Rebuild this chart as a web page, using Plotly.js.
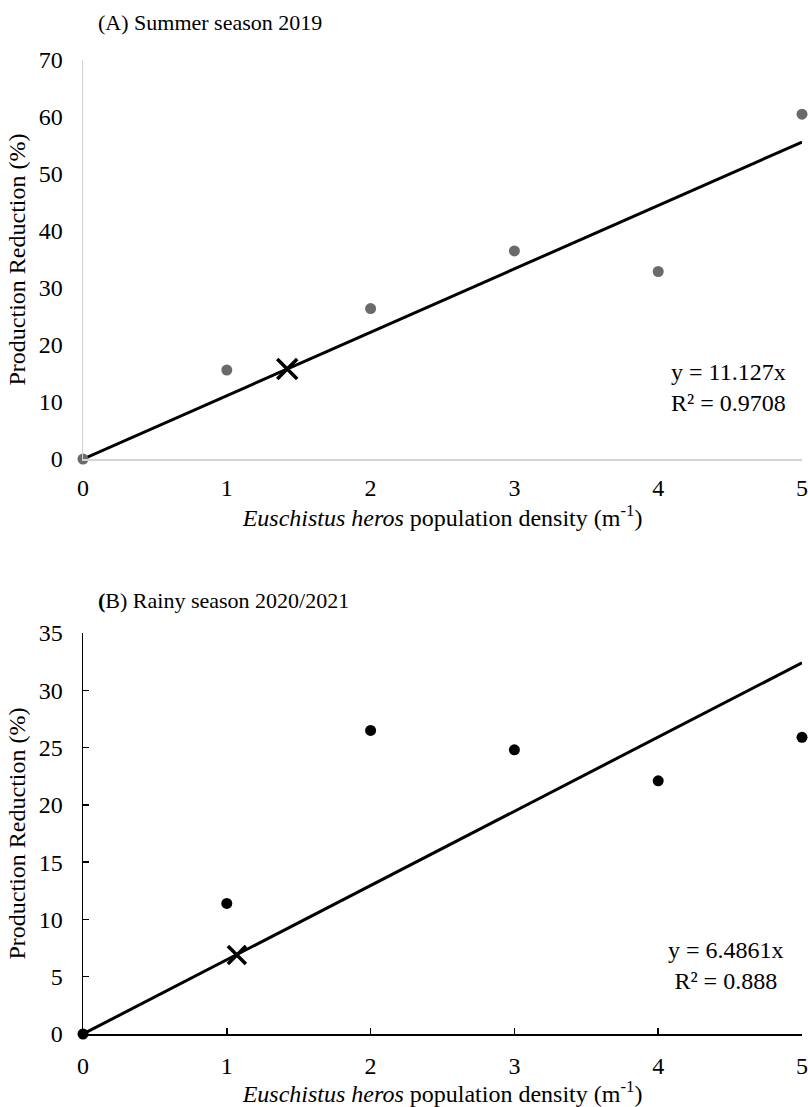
<!DOCTYPE html>
<html>
<head>
<meta charset="utf-8">
<script src="https://cdn.plot.ly/plotly-3.0.1.min.js"></script>
<style>html,body{margin:0;padding:0;background:#fff;}</style>
</head>
<body>
<div id="chart" style="width:808px;height:1107px;"></div>
<script>
// Data
const density = [0, 1, 2, 3, 4, 5];
const summerReduction = [0, 15.6, 26.4, 36.5, 32.9, 60.5];
const rainyReduction = [0, 11.4, 26.5, 24.8, 22.1, 25.9];
const trendX = [0, 5];
const summerTrendY = [0, 55.6];
const rainyTrendY = [0, 32.4];
const summerThresholdX = [1.42];
const summerThresholdY = [15.8];
const rainyThresholdX = [1.07];
const rainyThresholdY = [6.9];
const summerTicks = [0, 10, 20, 30, 40, 50, 60, 70];
const rainyTicks = [0, 5, 10, 15, 20, 25, 30, 35];
const xTicks = [0, 1, 2, 3, 4, 5];

const FONT = 'Liberation Serif, Times New Roman, serif';

const traces = [
  {x: trendX, y: summerTrendY, xaxis: 'x', yaxis: 'y', mode: 'lines',
   line: {color: '#000', width: 3}, hoverinfo: 'skip', cliponaxis: false},
  {x: density, y: summerReduction, xaxis: 'x', yaxis: 'y', mode: 'markers',
   marker: {color: '#6a6a6a', size: 11}, cliponaxis: false},
  {x: summerThresholdX, y: summerThresholdY, xaxis: 'x', yaxis: 'y', mode: 'markers',
   marker: {symbol: 'x-thin-open', size: 20, color: '#000', line: {color: '#000', width: 3.5}}, cliponaxis: false},
  {x: trendX, y: rainyTrendY, xaxis: 'x2', yaxis: 'y2', mode: 'lines',
   line: {color: '#000', width: 3}, hoverinfo: 'skip', cliponaxis: false},
  {x: density, y: rainyReduction, xaxis: 'x2', yaxis: 'y2', mode: 'markers',
   marker: {color: '#000', size: 11}, cliponaxis: false},
  {x: rainyThresholdX, y: rainyThresholdY, xaxis: 'x2', yaxis: 'y2', mode: 'markers',
   marker: {symbol: 'x-thin-open', size: 18, color: '#000', line: {color: '#000', width: 3.5}}, cliponaxis: false}
];

const xTitle = '<i>Euschistus heros</i> population density (m<sup>-1</sup>)';
const yTitle = 'Production Reduction (%)';
const tickFont = {family: FONT, size: 24, color: '#000'};
const titleFont = {family: FONT, size: 24, color: '#000'};

const layout = {
  width: 808, height: 1107,
  margin: {l: 83, r: 6, t: 60, b: 73},
  paper_bgcolor: '#fff', plot_bgcolor: '#fff',
  showlegend: false,
  font: {family: FONT, size: 24, color: '#000'},
  xaxis: {
    domain: [0, 1], range: [0, 5], anchor: 'y',
    tickvals: xTicks, ticks: '', showgrid: false, zeroline: false,
    showline: true, linecolor: '#d4d4d4', linewidth: 1.5,
    tickfont: tickFont, ticklabelstandoff: 7,
    title: {text: xTitle, font: titleFont, standoff: 9}
  },
  yaxis: {
    domain: [0.5903, 1], range: [0, 70], anchor: 'x',
    tickvals: summerTicks, ticks: '', showgrid: false, zeroline: false,
    showline: true, linecolor: '#d4d4d4', linewidth: 1.5,
    tickfont: tickFont, ticklabelstandoff: 14,
    title: {text: yTitle, font: titleFont, standoff: 6}
  },
  xaxis2: {
    domain: [0, 1], range: [0, 5], anchor: 'y2',
    tickvals: xTicks, ticks: 'inside', ticklen: 6, tickwidth: 1.5, tickcolor: '#000',
    showgrid: false, zeroline: false,
    showline: true, linecolor: '#000', linewidth: 1.5,
    tickfont: tickFont, ticklabelstandoff: 10,
    title: {text: xTitle, font: titleFont, standoff: 6}
  },
  yaxis2: {
    domain: [0, 0.4117], range: [0, 35], anchor: 'x2',
    tickvals: rainyTicks, ticks: 'inside', ticklen: 6, tickwidth: 1.5, tickcolor: '#000',
    showgrid: false, zeroline: false,
    showline: true, linecolor: '#000', linewidth: 1.5,
    tickfont: tickFont, ticklabelstandoff: 14,
    title: {text: yTitle, font: titleFont, standoff: 6}
  },
  annotations: [
    {text: '(A) Summer season 2019', xref: 'paper', yref: 'paper',
     x: 0.0181, y: 1, xanchor: 'left', yanchor: 'bottom', yshift: 23,
     showarrow: false, font: {family: FONT, size: 22, color: '#000'}},
    {text: '<b>(</b>B) Rainy season 2020/2021', xref: 'paper', yref: 'paper',
     x: 0.0181, y: 0.4117, xanchor: 'left', yanchor: 'bottom', yshift: 18,
     showarrow: false, font: {family: FONT, size: 22, color: '#000'}},
    {text: 'y = 11.127x<br>R² = 0.9708', xref: 'x', yref: 'y',
     x: 5, y: 12.5, xanchor: 'right', yanchor: 'middle', xshift: -14, align: 'center',
     showarrow: false, font: {family: FONT, size: 24, color: '#000'}},
    {text: 'y = 6.4861x<br>R² = 0.888', xref: 'x2', yref: 'y2',
     x: 5, y: 6, xanchor: 'right', yanchor: 'middle', xshift: -16, align: 'center',
     showarrow: false, font: {family: FONT, size: 24, color: '#000'}}
  ]
};

Plotly.newPlot('chart', traces, layout, {displayModeBar: false, staticPlot: true});
</script>
</body>
</html>
